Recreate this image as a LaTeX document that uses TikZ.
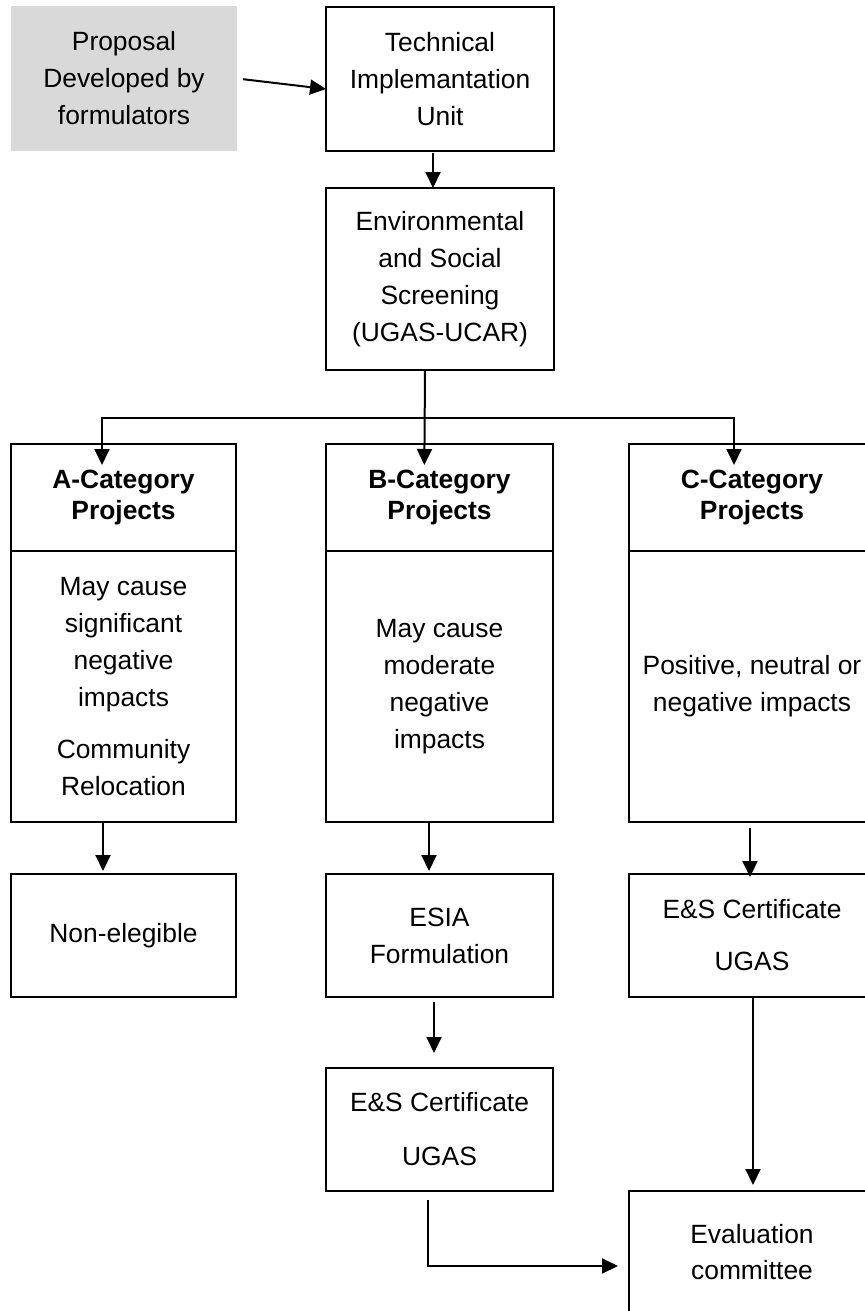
\documentclass[tikz,border=0pt]{standalone}
\usepackage{fontspec}
\setmainfont{Liberation Sans}
\usepackage{xcolor}
\definecolor{grisClaro}{RGB}{217,217,217}
\usepackage{tikz}
\usetikzlibrary{arrows.meta,calc,positioning}
\tikzstyle{box} =[draw, line width=1pt, align=center,
                  inner sep=0pt, outer sep=0pt,
                  font=\fontsize{13.2}{18.5}\selectfont]
\tikzstyle{head}=[box, font=\bfseries\fontsize{13.2}{15.5}\selectfont]
\tikzstyle{conn}=[-{Triangle[width=7.5pt,length=8pt]},
                  line width=1pt]

\begin{document}
\begin{tikzpicture}[x=0.5pt,y=-0.5pt]
    \useasboundingbox (0,0) rectangle (865,1311);
    \clip (0,0) rectangle (865,1311);

        \begin{scope}[]
            \draw (124,78.5) node (prop) [box,draw=none,fill=grisClaro,minimum width=113pt,minimum height=72pt]
                {Proposal\\Developed by\\formulators};
            \draw (440,79) node (tiu) [box,minimum width=114pt,minimum height=72pt]
                {Technical\\Implemantation\\Unit};
            \draw (440,279) node (ess) [box,minimum width=114pt,minimum height=91pt]
                {Environmental\\and Social\\Screening\\(UGAS-UCAR)};
        \end{scope}

        \begin{scope}[]
            \draw (123.5,497.5) node (hA) [head,minimum width=112.5pt,minimum height=53.5pt] {A-Category\\Projects};
            \draw (439.5,497.5) node (hB) [head,minimum width=113.5pt,minimum height=53.5pt] {B-Category\\Projects};
            \draw (752,497.5) node (hC) [head,minimum width=123pt,minimum height=53.5pt] {C-Category\\Projects};
            \draw (123.5,686.5) node (bA) [box,minimum width=112.5pt,minimum height=135.5pt]
                {May cause\\significant\\negative\\impacts\\[7.5pt]Community\\Relocation};
            \draw (439.5,686.5) node (bB) [box,minimum width=113.5pt,minimum height=135.5pt]
                {May cause\\moderate\\negative\\impacts};
            \draw (752,686.5) node (bC) [box,minimum width=123pt,minimum height=135.5pt]
                {Positive, neutral or\\negative impacts};
        \end{scope}

        \begin{scope}[]
            \draw (123.5,935.5) node (nonel) [box,minimum width=112.5pt,minimum height=61.5pt] {Non-elegible};
            \draw (439.5,935.5) node (esia) [box,minimum width=113.5pt,minimum height=61.5pt] {ESIA\\Formulation};
            \draw (752,935.5) node (certC) [box,minimum width=123pt,minimum height=61.5pt,
                font=\fontsize{13.2}{26}\selectfont] {E\&S Certificate\\UGAS};
            \draw (439.5,1129.5) node (certB) [box,minimum width=113.5pt,minimum height=61.5pt,
                font=\fontsize{13.2}{27}\selectfont] {E\&S Certificate\\UGAS};
            \draw (752,1252.5) node (eval) [box,minimum width=123pt,minimum height=61.5pt,
                font=\fontsize{13.2}{18}\selectfont] {Evaluation\\committee};
        \end{scope}

        \coordinate (split) at (425,418);

        \draw [conn,shorten <=3pt] (prop.east) to ([yshift=-5pt]tiu.west);
        \draw [conn,shorten <=1pt] ([xshift=-3.5pt]tiu.south) to ([xshift=-3.5pt]ess.north);
        \draw [conn,shorten >=-10.5pt] ([xshift=-7.5pt]ess.south) to ([xshift=-7.5pt]hB.north);
        \draw [conn,shorten >=-10.5pt] (split) -| ([xshift=-10.75pt]hA.north);
        \draw [conn,shorten >=-10.5pt] (split) -| ([xshift=-9pt]hC.north);

        \foreach \i/\j/\s in {bA/nonel/-10.25pt,bB/esia/-5.25pt}
            \draw [conn,shorten >=1.5pt] ([xshift=\s]\i.south) to ([xshift=\s]\j.north);
        \draw [conn,shorten <=3pt,shorten >=-1.5pt] ([xshift=-1pt]bC.south) to ([xshift=-1pt]certC.north);
        \draw [conn,shorten <=2.5pt,shorten >=7.5pt] ([xshift=-2.75pt]esia.south) to ([xshift=-2.75pt]certB.north);
        \draw [conn,shorten <=0.5pt,shorten >=3pt] ([xshift=0.5pt]certC.south) to ([xshift=0.5pt]eval.north);
        \draw [conn,shorten <=4.5pt,shorten >=5.5pt] ([xshift=-5.75pt]certB.south) |- ([yshift=-6.75pt]eval.west);

\end{tikzpicture}
\end{document}
